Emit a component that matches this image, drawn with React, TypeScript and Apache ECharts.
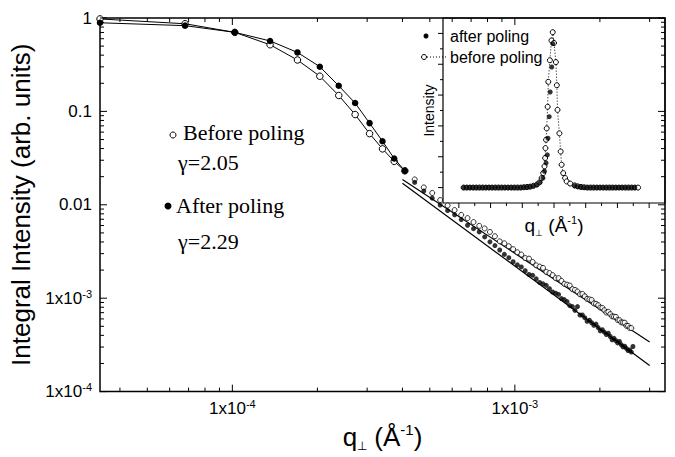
import React, { useEffect, useRef } from 'react';
import * as echarts from 'echarts';

// ---------------- main plot data (q in 1/Å, intensity in arb. units) ----------------
const qLow = [3.4e-5, 6.8e-5, 1.02e-4, 1.36e-4, 1.7e-4, 2.04e-4, 2.38e-4, 2.72e-4, 3.06e-4, 3.4e-4, 3.74e-4, 4.08e-4];
const beforeLow = [0.977, 0.868, 0.702, 0.517, 0.355, 0.238, 0.148, 0.0926, 0.0578, 0.0397, 0.0292, 0.0231];
const afterLow = [0.889, 0.828, 0.702, 0.568, 0.428, 0.301, 0.188, 0.1229, 0.0749, 0.0479, 0.0313, 0.0231];

const qTail = [
  4.42e-4, 4.76e-4, 5.1e-4, 5.44e-4, 5.78e-4, 6.12e-4, 6.46e-4, 6.8e-4, 7.14e-4, 7.48e-4,
  7.82e-4, 8.16e-4, 8.5e-4, 8.84e-4, 9.18e-4, 9.52e-4, 9.86e-4, 1.02e-3, 1.054e-3, 1.088e-3,
  1.122e-3, 1.156e-3, 1.19e-3, 1.224e-3, 1.258e-3, 1.292e-3, 1.326e-3, 1.36e-3, 1.394e-3, 1.428e-3,
  1.462e-3, 1.496e-3, 1.53e-3, 1.564e-3, 1.598e-3, 1.632e-3, 1.666e-3, 1.7e-3, 1.734e-3, 1.768e-3,
  1.802e-3, 1.836e-3, 1.87e-3, 1.904e-3, 1.938e-3, 1.972e-3, 2.006e-3, 2.04e-3, 2.074e-3, 2.108e-3,
  2.142e-3, 2.176e-3, 2.21e-3, 2.244e-3, 2.278e-3, 2.312e-3, 2.346e-3, 2.38e-3, 2.414e-3, 2.448e-3,
  2.482e-3, 2.516e-3, 2.55e-3, 2.584e-3, 2.618e-3,
];
const beforeTail = [
  0.01868, 0.01535, 0.01338, 0.01124, 0.00984, 0.00878, 0.00779, 0.0072, 0.00653, 0.00595,
  0.00558, 0.00512, 0.00461, 0.00406, 0.00387, 0.0036, 0.00335, 0.0031,
  0.002935, 0.002688, 0.002653, 0.002442, 0.002247, 0.00218, 0.002112, 0.001908, 0.001858, 0.001766,
  0.001639, 0.00164, 0.001529, 0.001423, 0.001397, 0.001367, 0.001249, 0.001228, 0.001178, 0.001103,
  0.001113, 0.001047, 0.000982, 0.000971, 0.000958, 0.00088, 0.000871, 0.000842, 0.000793, 0.000787,
  0.000743, 0.000702, 0.000714, 0.000675, 0.000639, 0.000635, 0.000631, 0.000584, 0.000581, 0.000551,
  0.000548, 0.000547, 0.000507, 0.000505, 0.00048, 0.000479,
];
const afterTail = [
  0.01738, 0.01406, 0.01178, 0.00994, 0.00868, 0.00783, 0.00694, 0.00604, 0.00555, 0.00512,
  0.00453, 0.00401, 0.00366, 0.00328, 0.002945, 0.002715, 0.002454, 0.002275,
  0.002163, 0.001969, 0.001792, 0.001759, 0.001611, 0.001475, 0.001423, 0.001372, 0.001265, 0.001165,
  0.001131, 0.001097, 0.000991, 0.000966, 0.000919, 0.000833, 0.000813, 0.000741, 0.000814, 0.00066,
  0.000661, 0.000619, 0.000567, 0.000582, 0.000546, 0.000513, 0.000528, 0.000485, 0.000446, 0.00046,
  0.000433, 0.000408, 0.000422, 0.000389, 0.000359, 0.000372, 0.000351, 0.000332, 0.000344, 0.000318,
  0.000301, 0.000306, 0.00029, 0.000275, 0.000279, 0.000265, 0.000304,
];

// power-law fits
const fitQ = [4.0e-4, 3.0e-3];
const fitBefore = [0.0187, 3.4e-4];
const fitAfter = [0.017, 1.9e-4];

// ---------------- inset data (q_perp scan, arbitrary units) ----------------
const insetOpenQ = [
  -2.85, -2.75, -2.65, -2.55, -2.45, -2.35, -2.25, -2.15, -2.05, -1.95, -1.85, -1.75, -1.65, -1.55, -1.45,
  -1.35, -1.25, -1.15, -1.05, -0.95, -0.85, -0.75, -0.65,
  -0.54, -0.46, -0.39, -0.34, -0.3, -0.28, -0.27, -0.25, -0.23, -0.2, -0.18, -0.13, -0.08, -0.04,
  0.0, 0.06, 0.09, 0.11, 0.17, 0.21, 0.24, 0.29, 0.35, 0.4, 0.51,
  0.65, 0.75, 0.85, 0.95, 1.05, 1.15, 1.25, 1.35, 1.45, 1.55, 1.65, 1.75, 1.85, 1.95, 2.05, 2.15, 2.25,
  2.35, 2.45, 2.55, 2.65,
];
const insetOpenI = [
  0, 0, 0, 0, 0, 0, 0, 0, 0, 0, 0, 0, 0, 0, 0,
  0, 0, 0, 0, 0.01, 0.02, 0.03, 0.06,
  0.1, 0.17, 0.31, 0.47, 0.69, 0.96, 1.28, 1.55, 1.92, 2.62, 3.43, 4.13, 4.77, 5.04,
  4.69, 4.07, 3.32, 2.52, 1.76, 1.17, 0.74, 0.47, 0.31, 0.2, 0.13,
  0.07, 0.04, 0.02, 0.01, 0, 0, 0, 0, 0, 0, 0, 0, 0, 0, 0, 0, 0,
  0, 0, 0, 0,
];
const insetFilledQ = [
  -2.85, -2.75, -2.65, -2.55, -2.45, -2.35, -2.25, -2.15, -2.05, -1.95, -1.85, -1.75, -1.65, -1.55, -1.45,
  -1.35, -1.25, -1.15, -1.05, -0.95, -0.85, -0.75, -0.65,
  -0.55, -0.44, -0.35, -0.3, -0.25, -0.21, -0.19, -0.15, -0.12, -0.07, -0.04,
  0.65, 0.75, 0.85, 0.95, 1.05, 1.15, 1.25, 1.35, 1.45, 1.55, 1.65, 1.75, 1.85, 1.95, 2.05, 2.15, 2.25,
  2.35, 2.45, 2.55,
];
const insetFilledI = [
  0, 0, 0, 0, 0, 0, 0, 0, 0, 0, 0, 0, 0, 0, 0,
  0, 0, 0, 0, 0.01, 0.01, 0.03, 0.05,
  0.09, 0.17, 0.31, 0.53, 0.8, 1.06, 1.6, 2.3, 3.1, 3.91, 4.67,
  0.06, 0.03, 0.02, 0, 0, 0, 0, 0, 0, 0, 0, 0, 0, 0, 0, 0, 0,
  0, 0, 0,
];

// ---------------- axis ticks and labels ----------------
const xMajorTicks = [1e-4, 1e-3];
const xMinorTicks = [4e-5, 5e-5, 6e-5, 7e-5, 8e-5, 9e-5, 2e-4, 3e-4, 4e-4, 5e-4, 6e-4, 7e-4, 8e-4, 9e-4, 2e-3, 3e-3];
const xTickTexts = ['{n|1x10}{s|-4}', '{n|1x10}{s|-3}'];
const yMajorTicks = [1e-4, 1e-3, 1e-2, 1e-1, 1];
const yMinorTicks = [
  2e-4, 3e-4, 4e-4, 5e-4, 6e-4, 7e-4, 8e-4, 9e-4,
  2e-3, 3e-3, 4e-3, 5e-3, 6e-3, 7e-3, 8e-3, 9e-3,
  0.02, 0.03, 0.04, 0.05, 0.06, 0.07, 0.08, 0.09,
  0.2, 0.3, 0.4, 0.5, 0.6, 0.7, 0.8, 0.9,
];
const yTickTexts = ['{n|1x10}{s|-4}', '{n|1x10}{s|-3}', '{n|0.01}', '{n|0.1}', '{n|1}'];
const insetXMajor = [-3, -2, -1, 0, 1, 2, 3];
const insetXMinor = [-2.5, -1.5, -0.5, 0.5, 1.5, 2.5];
const insetYMajor = [0, 1, 2, 3, 4, 5];
const insetYMinor = [0.5, 1.5, 2.5, 3.5, 4.5];

const SANS = "'Liberation Sans', Arial, sans-serif";
const SERIF = "'Liberation Serif', 'Times New Roman', serif";

function pairs(xs: number[], ys: number[]) {
  return ys.map((y, i) => [xs[i], y]);
}

function labelFor(values: number[], texts: string[]) {
  return (v: number) => {
    const lv = Math.log10(v);
    for (let i = 0; i < values.length; i++) {
      if (Math.abs(Math.log10(values[i]) - lv) < 1e-6) return texts[i];
    }
    return '';
  };
}

function tickSeries(o: {
  xAxisIndex: number; yAxisIndex: number; axis: 'x' | 'y';
  major: number[]; minor: number[]; ref: number;
  majorLen: number; minorLen: number; near: number; far: number;
}) {
  const data = o.major.map((v) => (o.axis === 'x' ? [v, o.ref, 1] : [o.ref, v, 1]))
    .concat(o.minor.map((v) => (o.axis === 'x' ? [v, o.ref, 0] : [o.ref, v, 0])));
  return {
    type: 'custom',
    xAxisIndex: o.xAxisIndex,
    yAxisIndex: o.yAxisIndex,
    silent: true,
    clip: false,
    z: 6,
    encode: { x: 0, y: 1 },
    data,
    renderItem: (params: any, api: any) => {
      const cs = params.coordSys;
      const len = api.value(2) === 1 ? o.majorLen : o.minorLen;
      const p = api.coord([api.value(0), api.value(1)]);
      const style = { stroke: '#000', lineWidth: 1 };
      const children: any[] = [];
      if (o.axis === 'x') {
        const x = p[0];
        if (o.near) {
          const y0 = cs.y + cs.height;
          children.push({ type: 'line', shape: { x1: x, y1: y0, x2: x, y2: y0 - o.near * len }, style });
        }
        if (o.far) {
          const y0 = cs.y;
          children.push({ type: 'line', shape: { x1: x, y1: y0, x2: x, y2: y0 + o.far * len }, style });
        }
      } else {
        const y = p[1];
        if (o.near) {
          const x0 = cs.x;
          children.push({ type: 'line', shape: { x1: x0, y1: y, x2: x0 + o.near * len, y2: y }, style });
        }
        if (o.far) {
          const x0 = cs.x + cs.width;
          children.push({ type: 'line', shape: { x1: x0, y1: y, x2: x0 - o.far * len, y2: y }, style });
        }
      }
      return { type: 'group', children };
    },
  };
}

const tickRich = {
  n: { fontSize: 17, fontFamily: SANS, color: '#000', lineHeight: 20 },
  s: { fontSize: 11, fontFamily: SANS, color: '#000', lineHeight: 10, verticalAlign: 'top' },
};

const option: any = {
  animation: false,
  backgroundColor: '#fff',
  grid: [
    { left: 100, top: 18, width: 565, height: 391, show: true, borderColor: '#000', borderWidth: 1.5, containLabel: false },
    { left: 443, top: 18, width: 222, height: 185, show: true, borderColor: '#000', borderWidth: 1.2, containLabel: false },
  ],
  xAxis: [
    {
      type: 'log', gridIndex: 0, logBase: 10, min: 3.4e-5, max: 3.4e-3, splitNumber: 2,
      axisLine: { show: false }, axisTick: { show: false }, splitLine: { show: false },
      axisLabel: { margin: 7, formatter: labelFor(xMajorTicks, xTickTexts), rich: tickRich, hideOverlap: false },
      name: '{a|q}{b|⊥}{a| (Å}{c|-1}{a|)}',
      nameLocation: 'middle', nameGap: 16,
      nameTextStyle: {
        rich: {
          a: { fontSize: 26, fontFamily: SANS, color: '#000', lineHeight: 30 },
          b: { fontSize: 12, fontFamily: SANS, color: '#000', lineHeight: 13, verticalAlign: 'bottom' },
          c: { fontSize: 15, fontFamily: SANS, color: '#000', lineHeight: 15, verticalAlign: 'top' },
        },
      },
    },
    {
      type: 'value', gridIndex: 1, min: -3.5, max: 3.5,
      axisLine: { show: false }, axisTick: { show: false }, splitLine: { show: false }, axisLabel: { show: false },
      name: '{a|q}{b|⊥}{a| (Å}{c|-1}{a|)}',
      nameLocation: 'middle', nameGap: 11,
      nameTextStyle: {
        rich: {
          a: { fontSize: 19, fontFamily: SANS, color: '#000', lineHeight: 23 },
          b: { fontSize: 9, fontFamily: SANS, color: '#000', lineHeight: 10, verticalAlign: 'bottom' },
          c: { fontSize: 11, fontFamily: SANS, color: '#000', lineHeight: 11, verticalAlign: 'top' },
        },
      },
    },
  ],
  yAxis: [
    {
      type: 'log', gridIndex: 0, logBase: 10, min: 1e-4, max: 1,
      axisLine: { show: false }, axisTick: { show: false }, splitLine: { show: false },
      axisLabel: { margin: 8, formatter: labelFor(yMajorTicks, yTickTexts), rich: tickRich },
      name: 'Integral Intensity (arb. units)',
      nameLocation: 'middle', nameGap: 58,
      nameTextStyle: { fontSize: 26, fontFamily: SANS, color: '#000' },
    },
    {
      type: 'value', gridIndex: 1, min: -0.5, max: 5.5,
      axisLine: { show: false }, axisTick: { show: false }, splitLine: { show: false }, axisLabel: { show: false },
      name: 'Intensity', nameLocation: 'middle', nameGap: 7,
      nameTextStyle: { fontSize: 14, fontFamily: SANS, color: '#000' },
    },
  ],
  series: [
    tickSeries({ xAxisIndex: 0, yAxisIndex: 0, axis: 'x', major: xMajorTicks, minor: xMinorTicks, ref: 0.01, majorLen: 7, minorLen: 4, near: 1, far: 1 }),
    tickSeries({ xAxisIndex: 0, yAxisIndex: 0, axis: 'y', major: yMajorTicks, minor: yMinorTicks, ref: 1e-4, majorLen: 7, minorLen: 4, near: 1, far: 1 }),
    tickSeries({ xAxisIndex: 1, yAxisIndex: 1, axis: 'x', major: insetXMajor, minor: insetXMinor, ref: 0, majorLen: 5, minorLen: 3, near: -1, far: 0 }),
    tickSeries({ xAxisIndex: 1, yAxisIndex: 1, axis: 'y', major: insetYMajor, minor: insetYMinor, ref: 0, majorLen: 5, minorLen: 3, near: -1, far: 0 }),
    {
      type: 'line', name: 'fit before', xAxisIndex: 0, yAxisIndex: 0, data: pairs(fitQ, fitBefore),
      symbol: 'none', silent: true, lineStyle: { color: '#000', width: 1.2 }, z: 2,
    },
    {
      type: 'line', name: 'fit after', xAxisIndex: 0, yAxisIndex: 0, data: pairs(fitQ, fitAfter),
      symbol: 'none', silent: true, lineStyle: { color: '#000', width: 1.2 }, z: 2,
    },
    {
      type: 'line', name: 'Before poling', xAxisIndex: 0, yAxisIndex: 0, data: pairs(qLow, beforeLow),
      symbol: 'circle', symbolSize: 6.5, clip: false, silent: true, z: 3,
      lineStyle: { color: '#000', width: 1 },
      itemStyle: { color: '#fff', borderColor: '#000', borderWidth: 1 },
    },
    {
      type: 'scatter', name: 'Before poling tail', xAxisIndex: 0, yAxisIndex: 0, data: pairs(qTail, beforeTail),
      symbol: 'circle', symbolSize: 5, silent: true, z: 3,
      itemStyle: { color: '#fff', borderColor: '#000', borderWidth: 1 },
    },
    {
      type: 'line', name: 'After poling', xAxisIndex: 0, yAxisIndex: 0, data: pairs(qLow, afterLow),
      symbol: 'circle', symbolSize: 6.5, clip: false, silent: true, z: 4,
      lineStyle: { color: '#000', width: 1 },
      itemStyle: { color: '#000', borderColor: '#000', borderWidth: 0 },
    },
    {
      type: 'scatter', name: 'After poling tail', xAxisIndex: 0, yAxisIndex: 0, data: pairs(qTail, afterTail),
      symbol: 'circle', symbolSize: 5, silent: true, z: 4,
      itemStyle: { color: '#000' },
    },
    {
      type: 'line', name: 'before poling (inset)', xAxisIndex: 1, yAxisIndex: 1, data: pairs(insetOpenQ, insetOpenI),
      symbol: 'circle', symbolSize: 5, silent: true, z: 3,
      lineStyle: { color: '#000', width: 1, type: [1, 2] },
      itemStyle: { color: '#fff', borderColor: '#000', borderWidth: 1 },
    },
    {
      type: 'scatter', name: 'after poling (inset)', xAxisIndex: 1, yAxisIndex: 1, data: pairs(insetFilledQ, insetFilledI),
      symbol: 'circle', symbolSize: 5, silent: true, z: 4,
      itemStyle: { color: '#000' },
    },
  ],
  graphic: [
    { type: 'circle', shape: { cx: 173, cy: 135, r: 3 }, style: { fill: '#fff', stroke: '#000', lineWidth: 1 }, silent: true },
    { type: 'text', x: 183, y: 132, style: { text: 'Before poling', fontSize: 22, fontFamily: SERIF, fill: '#000', align: 'left', verticalAlign: 'middle' }, silent: true },
    { type: 'text', x: 178, y: 162, style: { text: 'γ=2.05', fontSize: 22, fontFamily: SERIF, fill: '#000', align: 'left', verticalAlign: 'middle' }, silent: true },
    { type: 'circle', shape: { cx: 168, cy: 206, r: 3.5 }, style: { fill: '#000', stroke: '#000', lineWidth: 0 }, silent: true },
    { type: 'text', x: 176, y: 205, style: { text: 'After poling', fontSize: 22, fontFamily: SERIF, fill: '#000', align: 'left', verticalAlign: 'middle' }, silent: true },
    { type: 'text', x: 178, y: 241, style: { text: 'γ=2.29', fontSize: 22, fontFamily: SERIF, fill: '#000', align: 'left', verticalAlign: 'middle' }, silent: true },
    // inset legend
    { type: 'circle', shape: { cx: 426, cy: 36, r: 2.5 }, style: { fill: '#000' }, silent: true },
    { type: 'text', x: 450, y: 36, style: { text: 'after poling', fontSize: 16, fontFamily: SANS, fill: '#000', align: 'left', verticalAlign: 'middle' }, silent: true },
    { type: 'line', shape: { x1: 427, y1: 57, x2: 447, y2: 57 }, style: { stroke: '#000', lineWidth: 1, lineDash: [1, 2] }, silent: true },
    { type: 'circle', shape: { cx: 424, cy: 57, r: 2.5 }, style: { fill: '#fff', stroke: '#000', lineWidth: 1 }, silent: true },
    { type: 'text', x: 450, y: 57, style: { text: 'before poling', fontSize: 16, fontFamily: SANS, fill: '#000', align: 'left', verticalAlign: 'middle' }, silent: true },
  ],
};

export default function App() {
  const ref = useRef<HTMLDivElement>(null);
  useEffect(() => {
    if (!ref.current) return;
    const chart = echarts.init(ref.current, null, { renderer: 'svg' });
    chart.setOption(option);
    return () => chart.dispose();
  }, []);
  return (
    <div
      ref={ref}
      style={{ position: 'fixed', left: 0, top: 0, width: 675, height: 457, background: '#fff' }}
    />
  );
}
